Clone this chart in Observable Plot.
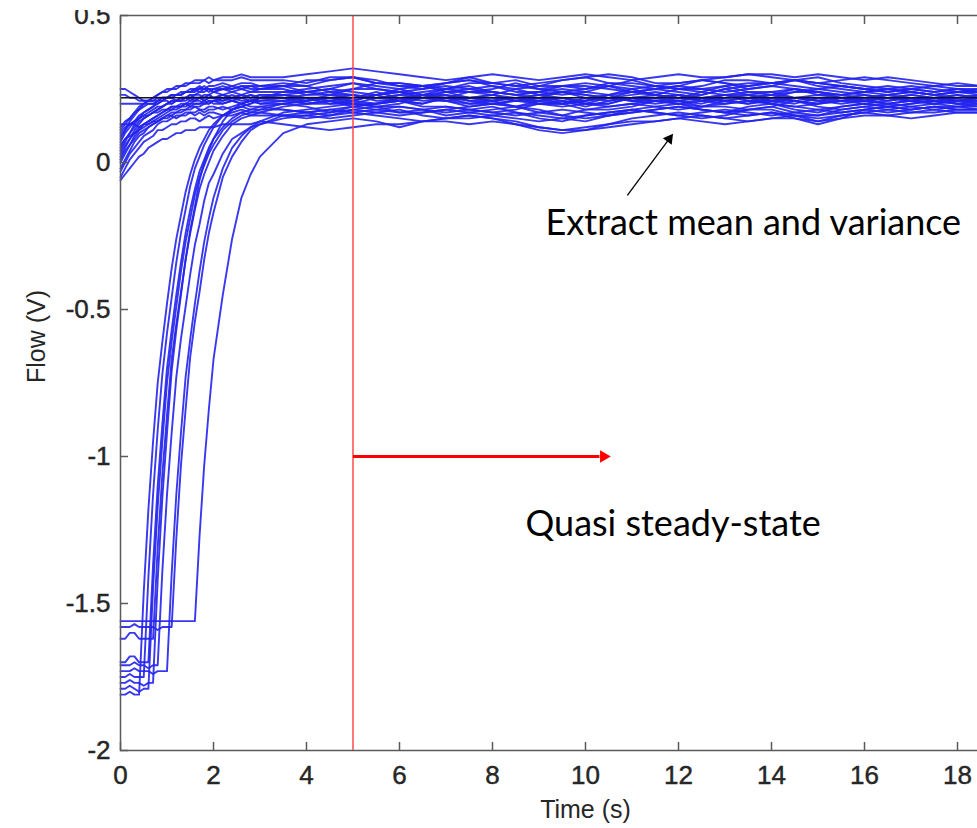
<!DOCTYPE html>
<html>
<head>
<meta charset="utf-8">
<script src="https://cdn.jsdelivr.net/npm/d3@7"></script>
<script src="https://cdn.jsdelivr.net/npm/@observablehq/plot@0.6"></script>
<style>
html, body { margin: 0; padding: 0; background: #fff; overflow: hidden; }
#chart { position: absolute; left: 0; top: 10px; }
#chart g[aria-label$="tick label"] text { stroke: #262626; stroke-width: 0.45px; }
#chart g[aria-label="axis title"] text { stroke: #262626; stroke-width: 0.35px; }
</style>
</head>
<body>
<div id="chart"></div>
<script>
// Sample times (s): start-up part and quasi steady-state part
const timeRise = [0,0.1,0.2,0.3,0.4,0.5,0.6,0.7,0.8,0.9,1,1.1,1.2,1.3,1.4,1.5,1.6,1.7,1.8,1.9,2,2.2,2.4,2.6,2.8,3];
const timeSteady = [3.5,4,4.5,5,5.5,6,6.5,7,7.5,8,8.5,9,9.5,10,10.5,11,11.5,12,12.5,13,13.5,14,14.5,15,15.5,16,16.5,17,17.5,18,18.5,19];

// Flow traces, in hundredths of a volt: [start-up values, steady values]
const a01 = [[-6,-4,-2,0,2,3,5,6,7,8,8,9,10,10,11,11,11,12,12,12,12,13,13,13,13,14],
             [13,12,11,12,13,13,14,14,13,14,13,12,11,12,13,14,14,15,14,13,14,15,15,14,15,16,16,15,16,17,17,17]];
const a02 = [[-5,-2,1,3,5,7,8,9,11,11,12,13,13,14,14,15,15,14,15,16,15,16,16,17,16,16],
             [16,15,16,17,16,15,14,15,16,15,13,11,10,11,13,15,16,17,16,15,16,17,16,15,16,17,18,17,17,18,18,18]];
const a03 = [[-3,0,3,5,7,9,10,11,13,14,14,15,16,16,17,17,17,18,17,18,18,19,18,19,18,18],
             [18,17,18,19,18,17,18,19,18,17,16,17,18,17,16,17,18,19,18,17,16,17,15,13,15,18,19,18,19,19,18,19]];
const a04 = [[-2,1,4,7,9,10,12,13,14,15,16,17,17,18,18,19,19,19,20,20,21,20,21,20,21,20],
             [21,20,21,19,20,22,21,21,19,20,21,20,19,20,22,21,21,20,19,21,20,22,21,20,21,21,20,19,20,21,20,20]];
const a05 = [[0,3,6,9,11,13,14,15,16,17,18,19,19,20,20,21,21,22,21,22,22,23,22,23,22,23],
             [23,22,22,21,23,24,22,21,22,23,25,23,22,21,22,24,23,22,24,23,22,23,25,24,22,21,22,23,22,22,23,22]];
const a06 = [[1,4,6,8,10,11,12,13,14,15,16,16,17,17,18,18,19,18,18,19,19,18,19,20,19,19],
             [18,17,16,18,19,19,18,16,17,18,19,17,16,15,16,18,19,20,18,17,19,20,18,17,19,20,19,20,21,20,19,20]];
const a07 = [[2,5,8,11,13,15,16,17,18,19,20,21,21,22,22,23,23,24,24,25,24,25,24,25,24,25],
             [26,24,25,27,25,24,23,25,26,24,23,24,26,26,25,24,25,24,23,25,26,27,28,26,25,24,25,24,23,24,24,23]];
const a08 = [[3,6,8,10,12,13,14,15,16,17,18,18,19,19,20,20,21,21,20,21,21,22,21,22,21,21],
             [21,22,20,20,22,23,22,22,20,20,21,22,21,19,21,22,21,20,21,22,23,21,21,20,22,22,21,22,21,21,22,21]];
const a09 = [[4,7,10,13,15,17,18,19,21,21,22,23,23,24,24,25,25,26,25,26,26,27,26,27,27,26],
             [27,26,28,29,27,26,25,27,28,26,25,26,28,29,27,26,25,26,28,27,25,26,28,29,27,26,25,26,25,24,25,25]];
const a10 = [[5,8,10,12,14,15,16,17,18,19,20,21,21,21,22,22,23,23,22,23,24,23,24,23,24,24],
             [24,24,23,22,23,25,23,22,24,24,23,22,20,22,23,25,23,22,23,25,23,22,24,24,23,22,23,24,23,22,23,23]];
const a11 = [[6,8,9,10,11,12,13,14,14,15,15,16,15,16,16,17,16,17,16,17,17,16,17,18,17,17],
             [16,16,15,16,17,18,16,15,15,16,17,15,14,16,17,18,17,16,15,16,18,18,16,16,17,18,17,18,19,18,18,19]];
const a12 = [[7,10,12,14,16,17,18,19,20,21,22,22,23,23,24,24,25,25,26,25,25,26,25,26,26,25],
             [26,26,24,25,27,27,26,24,24,25,27,25,24,25,26,28,26,25,24,26,27,27,28,27,26,25,24,25,26,25,24,25]];
const a13 = [[8,11,14,16,18,20,21,22,23,24,25,25,26,26,27,27,28,28,28,29,28,29,29,30,29,29],
             [29,30,31,32,31,30,29,28,29,30,29,28,29,30,29,28,29,30,29,29,30,30,29,30,29,28,29,28,27,26,26,26]];
const a14 = [[9,11,13,14,15,16,17,18,19,19,20,20,21,21,21,22,21,22,22,23,22,22,23,22,23,22],
             [22,21,23,23,21,21,20,22,22,23,21,21,22,20,20,22,22,23,21,21,22,20,22,23,22,21,22,21,22,21,22,22]];
const a15 = [[10,12,13,14,15,16,16,17,17,18,18,19,19,19,20,19,20,20,20,21,20,20,21,20,21,20],
             [20,19,17,19,20,21,19,19,18,17,18,20,20,18,18,19,21,21,19,19,18,19,21,19,18,19,20,21,20,19,20,20]];
const a16 = [[11,13,15,17,19,20,21,22,23,24,24,25,25,26,26,27,27,27,28,27,28,28,28,29,28,28],
             [28,27,29,29,28,26,26,27,29,27,26,27,28,29,30,29,27,27,28,29,30,29,28,27,28,29,28,27,26,27,26,26]];
const a17 = [[12,14,15,17,18,19,20,20,21,22,22,23,23,23,24,24,25,24,25,25,24,25,25,26,25,25],
             [25,23,23,25,25,24,22,24,25,26,24,24,23,24,26,24,23,25,25,26,24,24,25,23,23,24,25,24,23,24,24,23]];
const a18 = [[13,13,13,13,12,13,13,14,15,16,17,18,18,19,19,20,20,20,21,20,21,21,22,21,21,22],
             [22,20,20,21,23,21,20,22,22,21,19,21,22,20,20,22,22,21,20,22,22,21,20,22,22,21,20,21,22,21,21,22]];
const b01 = [[25,25,24,23,22,21,21,21,22,22,22,23,23,23,24,24,24,25,25,24,25,25,26,25,26,26],
             [26,28,28,29,27,27,26,25,27,27,28,26,26,25,27,27,26,25,26,28,28,27,26,25,26,25,24,25,24,25,24,24]];
const b02 = [[23,23,22,22,21,21,21,21,21,22,22,22,21,22,22,23,22,22,23,23,22,23,22,23,22,23],
             [23,22,21,22,24,22,23,24,22,22,21,22,24,22,21,22,23,22,21,23,23,24,22,22,21,22,23,22,21,22,22,21]];
const b03 = [[20,20,20,20,20,20,20,20,20,21,21,20,21,21,22,21,22,22,21,22,22,21,22,22,23,22],
             [22,21,22,20,20,21,23,23,21,21,22,20,20,21,23,21,20,21,22,23,21,21,22,21,20,21,22,21,22,21,21,22]];
const c01 = [[-156,-156,-156,-156,-156,-156,-156,-156,-156,-156,-156,-156,-156,-156,-156,-156,-156,-127,-103,-84,-67,-45,-26,-12,-4,2],
             [10,13,14,15,14,12,14,15,16,15,14,12,11,11,12,13,14,15,16,15,14,15,16,14,16,17,16,17,18,17,17,18]];
const c02 = [[-158,-158,-158,-157,-158,-158,-158,-158,-159,-158,-158,-158,-128,-103,-84,-66,-54,-44,-33,-24,-17,-5,2,7,11,13],
             [16,17,18,17,18,19,18,17,18,19,17,16,15,14,16,17,18,19,18,17,18,19,17,16,18,19,18,19,18,19,19,18]];
const c03 = [[-162,-162,-160,-160,-162,-162,-162,-162,-131,-106,-86,-67,-55,-44,-33,-24,-16,-9,-4,0,4,9,13,15,16,17],
             [19,20,21,20,19,20,22,22,21,20,19,20,21,20,19,20,21,22,21,20,21,20,19,20,21,20,21,22,21,20,21,21]];
const c04 = [[-170,-170,-168,-168,-170,-170,-170,-137,-110,-89,-70,-57,-45,-34,-24,-16,-9,-3,1,5,8,12,15,17,18,19],
             [20,21,22,23,22,21,22,23,22,21,22,23,24,23,22,21,22,23,22,21,22,23,22,21,22,23,22,21,22,23,22,22]];
const c05 = [[-173,-173,-173,-172,-173,-173,-173,-174,-173,-173,-173,-140,-113,-92,-73,-60,-48,-37,-27,-19,-12,-2,5,9,12,14],
             [17,18,19,20,19,17,17,18,19,20,19,18,16,18,19,20,19,18,19,20,21,20,19,18,19,20,19,20,21,20,20,21]];
const c06 = [[-175,-175,-174,-175,-175,-175,-141,-113,-91,-72,-58,-46,-34,-24,-16,-8,-2,2,6,9,12,16,18,19,20,22],
             [23,24,25,24,23,24,25,26,25,24,23,24,25,24,23,24,25,26,25,24,25,26,25,24,23,24,23,24,23,24,23,24]];
const c07 = [[-179,-179,-178,-179,-180,-179,-179,-145,-117,-95,-75,-61,-49,-37,-27,-19,-11,-5,-1,3,6,11,14,16,17,18],
             [20,21,22,21,20,21,22,21,20,21,22,21,20,21,22,21,22,23,22,21,20,21,22,21,22,21,22,21,20,21,22,21]];
const c08 = [[-181,-181,-180,-181,-181,-146,-118,-95,-75,-61,-48,-36,-26,-18,-10,-4,1,5,8,11,13,16,18,19,20,21],
             [22,23,24,23,22,23,24,25,24,23,22,23,24,23,22,23,24,23,22,23,24,23,24,25,24,23,22,23,22,23,22,23]];
const c09 = [[-171,-171,-171,-170,-171,-171,-172,-171,-171,-139,-113,-92,-73,-60,-49,-38,-28,-21,-13,-7,-4,3,8,10,12,13],
             [15,16,17,18,17,16,17,18,17,16,15,14,15,16,17,18,17,16,17,18,17,16,17,18,17,18,19,18,19,18,18,19]];
const c10 = [[-177,-177,-176,-177,-177,-178,-177,-177,-142,-114,-92,-71,-57,-45,-33,-23,-15,-6,0,4,8,14,18,20,21,22],
             [24,25,26,27,26,25,26,27,28,27,26,25,26,27,26,25,26,27,28,27,26,27,28,27,26,25,26,25,24,25,25,24]];

const flowTraces = [a01,a02,a03,a04,a05,a06,a07,a08,a09,a10,a11,a12,a13,a14,a15,a16,a17,a18,
                    b01,b02,b03,c01,c02,c03,c04,c05,c06,c07,c08,c09,c10];

const meanFlow = 0.22;          // V, extracted mean
const steadyStart = 5;          // s, start of quasi steady-state
const steadyArrow = {x1: 5, x2: 10.3, head: 10.39, y: -1};
const meanArrow = {x1: 10.90, y1: -0.112, x2: 11.80, y2: 0.080, angle: 36.6};
const noteText = ["Extract mean and variance", "Quasi steady-state"];
const noteX = [9.14, 8.71];
const noteY = [-0.248, -1.269];

const xTicks = [0,2,4,6,8,10,12,14,16,18];
const yTicks = [0.5,0,-0.5,-1,-1.5,-2];

// build the long table
const rows = [];
flowTraces.forEach((tr, id) => {
  [[timeRise, tr[0]], [timeSteady, tr[1]]].forEach(([ts, vs]) => {
    const n = Math.min(ts.length, vs.length);
    for (let i = 0; i < n; i++) rows.push({id, t: ts[i], v: vs[i] / 100});
  });
});
const notes = noteText.map((text, i) => ({text, x: noteX[i], y: noteY[i]}));

const axisColor = "#5a5a5a";
const plot = Plot.plot({
  width: 1070,
  height: 818,
  marginTop: 5,
  marginBottom: 78,
  marginLeft: 120,
  marginRight: 20,
  x: {domain: [0, 20]},
  y: {domain: [-2, 0.5]},
  style: {fontFamily: "'Liberation Sans', Arial, sans-serif", fontSize: "26px", color: "#262626",
          overflow: "hidden", maxWidth: "none", background: "#fff"},
  marks: [
    Plot.line(rows, {x: "t", y: "v", z: "id", stroke: "#2222ee", strokeWidth: 1.9, strokeOpacity: 0.9}),
    Plot.ruleY([meanFlow], {stroke: "#141414", strokeWidth: 1.6}),
    Plot.ruleX([steadyStart], {stroke: "#ff4a4a", strokeWidth: 1.5}),
    Plot.link([steadyArrow], {x1: "x1", x2: "x2", y1: "y", y2: "y", stroke: "#ff0000", strokeWidth: 3}),
    Plot.dot([steadyArrow], {x: "head", y: "y", symbol: "triangle", rotate: 90, r: 4.6, fill: "#ff0000", stroke: "none"}),
    Plot.link([meanArrow], {x1: "x1", y1: "y1", x2: "x2", y2: "y2", stroke: "#000", strokeWidth: 1.3}),
    Plot.dot([meanArrow], {x: "x2", y: "y2", symbol: "triangle", rotate: meanArrow.angle, r: 4.1, fill: "#000", stroke: "none"}),
    Plot.text(notes, {x: "x", y: "y", text: "text", textAnchor: "start", lineAnchor: "bottom",
                      fontFamily: "Lato, 'Open Sans', sans-serif", fontSize: 36, fill: "#000"}),
    Plot.frame({stroke: axisColor, strokeWidth: 1.5}),
    Plot.axisX({ticks: xTicks, tickSize: -8, tickPadding: 23, tickFormat: d => String(d), label: null, stroke: axisColor, strokeWidth: 1.5, fill: "#262626"}),
    Plot.axisX({anchor: "top", ticks: xTicks, tickSize: -8, tickFormat: () => "", label: null, stroke: axisColor, strokeWidth: 1.5}),
    Plot.axisY({ticks: yTicks, tickSize: -8, tickPadding: 18, tickFormat: d => String(d), label: null, stroke: axisColor, strokeWidth: 1.5, fill: "#262626"}),
    Plot.text(["Time (s)"], {frameAnchor: "bottom", dy: 59, lineAnchor: "middle", fontSize: 25, fill: "#262626", ariaLabel: "axis title"}),
    Plot.text(["Flow (V)"], {frameAnchor: "left", dx: -84, rotate: -90, lineAnchor: "middle", fontSize: 25, fill: "#262626", ariaLabel: "axis title"})
  ]
});
document.getElementById("chart").appendChild(plot);
</script>
</body>
</html>
